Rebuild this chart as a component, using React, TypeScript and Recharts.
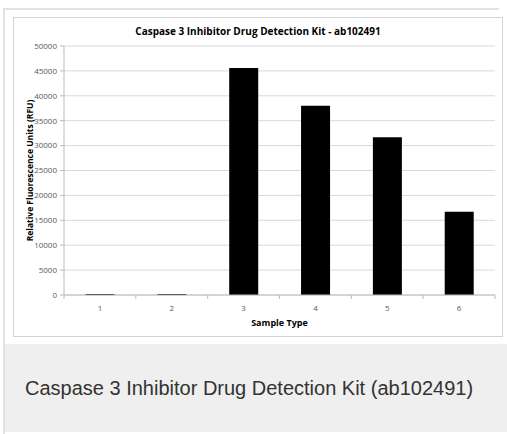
import React from 'react';
import { BarChart, Bar, XAxis, YAxis, CartesianGrid, Label } from 'recharts';

// ─── Data ─────────────────────────────────────────────────────────────────────
const SAMPLE_TYPES = ['1', '2', '3', '4', '5', '6'];
const RFU_VALUES = [200, 200, 45600, 38000, 31700, 16700];
const Y_TICKS = [0, 5000, 10000, 15000, 20000, 25000, 30000, 35000, 40000, 45000, 50000];

const data = SAMPLE_TYPES.map((sample, i) => ({ sample, rfu: RFU_VALUES[i] }));

const FONT = '"Open Sans", Lato, sans-serif';
const AXIS_GREY = '#bcbcbc';
const TICK_TEXT = '#595959';

// ─── Category tick: label at centre, tick marks at category boundaries ───────
const SampleTick = (props: any) => {
  const { x, y, payload, index } = props;
  const half = payload?.offset ?? 0;
  const last = index === SAMPLE_TYPES.length - 1;
  return (
    <g>
      <line x1={x - half} y1={y} x2={x - half} y2={y + 4} stroke={AXIS_GREY} />
      {last && <line x1={x + half} y1={y} x2={x + half} y2={y + 4} stroke={AXIS_GREY} />}
      <text x={x} y={y + 16} textAnchor="middle" fontSize={8} fill={TICK_TEXT} fontFamily={FONT}>
        {payload.value}
      </text>
    </g>
  );
};

const YTitle = (props: any) => {
  const { viewBox } = props;
  const cx = viewBox.x + 16;
  const cy = viewBox.y + viewBox.height / 2;
  return (
    <text
      x={cx} y={cy} transform={`rotate(-90 ${cx} ${cy})`}
      textAnchor="middle" dominantBaseline="central"
      fontSize={8.5} fontWeight={700} fill="#000" fontFamily={FONT}
    >
      Relative Fluorescence Units (RFU)
    </text>
  );
};

const XTitle = (props: any) => {
  const { viewBox } = props;
  return (
    <text
      x={viewBox.x + viewBox.width / 2} y={viewBox.y + 27}
      textAnchor="middle" dominantBaseline="central"
      fontSize={9} fontWeight={700} fill="#000" fontFamily={FONT}
    >
      Sample Type
    </text>
  );
};

export default function App() {
  return (
    <div style={{ position: 'absolute', left: 0, top: 0, width: 507, height: 434, background: '#fff', overflow: 'hidden' }}>
      {/* card frame */}
      <div style={{ position: 'absolute', left: 3, top: 8, width: 496, height: 426, borderTop: '2px solid #e3e3e3', borderLeft: '2px solid #e3e3e3', boxSizing: 'border-box' }} />

      {/* chart image */}
      <div style={{ position: 'absolute', left: 13, top: 17, width: 490, height: 320, background: '#fff' }}>
        <BarChart
          width={490} height={320} data={data}
          margin={{ top: 29, right: 8, left: 0, bottom: 0 }}
          barCategoryGap="30%"
        >
          <CartesianGrid vertical={false} stroke="#d9d9d9" />
          <XAxis
            dataKey="sample"
            height={42}
            axisLine={{ stroke: AXIS_GREY }}
            tickLine={false}
            tickSize={0}
            tickMargin={0}
            tick={<SampleTick />}
            interval={0}
          >
            <Label content={<XTitle />} />
          </XAxis>
          <YAxis
            width={51}
            domain={[0, 50000]}
            ticks={Y_TICKS}
            interval={0}
            axisLine={{ stroke: AXIS_GREY }}
            tickLine={{ stroke: AXIS_GREY }}
            tickSize={4}
            tickMargin={3}
            tick={{ fontSize: 8, fill: TICK_TEXT, fontFamily: FONT }}
          >
            <Label content={<YTitle />} />
          </YAxis>
          <Bar dataKey="rfu" fill="#000" isAnimationActive={false} />
        </BarChart>
        <div style={{ position: 'absolute', left: 0, top: 8, width: 490, textAlign: 'center', fontFamily: FONT, fontWeight: 700, fontSize: 10, lineHeight: '12px', color: '#000' }}>
          Caspase 3 Inhibitor Drug Detection Kit - ab102491
        </div>
        <div style={{ position: 'absolute', left: 0, top: 0, width: 490, height: 320, border: '1.5px solid #d3d3d3', boxSizing: 'border-box', pointerEvents: 'none' }} />
      </div>

      {/* caption */}
      <div style={{ position: 'absolute', left: 5, top: 344, width: 502, height: 88, background: '#eeefee', display: 'flex', alignItems: 'center', paddingLeft: 20, boxSizing: 'border-box', fontFamily: '"Liberation Sans", Arial, sans-serif', fontSize: 20, color: '#333' }}>
        Caspase 3 Inhibitor Drug Detection Kit (ab102491)
      </div>
    </div>
  );
}
